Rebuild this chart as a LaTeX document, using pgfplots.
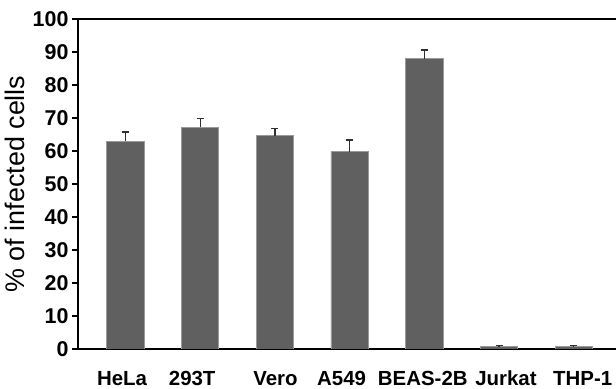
\documentclass[border=0pt]{standalone}
\usepackage{fontspec}
\setmainfont{Liberation Sans}
\usepackage{pgfplots}
\pgfplotsset{compat=1.18}
\definecolor{barfill}{HTML}{606060}
\definecolor{baredge}{HTML}{9A9A9A}
\definecolor{errc}{HTML}{303030}
\newcommand{\shl}[2]{\makebox[0pt]{\kern #1bp #2}}
\begin{document}
\begin{tikzpicture}
\begin{axis}[
  at={(78bp,40bp)}, anchor=south west,
  scale only axis,
  width=545bp, height=330bp,
  xmin=-0.636, xmax=6.66,
  ymin=0, ymax=100,
  ytick={0,10,...,100},
  xtick={0,1,2,3,4,5,6},
  xticklabels={\shl{-7}{HeLa},\shl{-16}{293T},\shl{1}{Vero},\shl{-16}{A549},\shl{-3}{BEAS-2B},\shl{14}{Jurkat},\shl{18}{THP-1}},
  axis line style={line width=2.6bp, black},
  ytick pos=left,
  xtick pos=bottom,
  tick align=outside,
  major tick length=6bp,
  ytick style={line width=2.2bp, black},
  xtick style={draw=none},
  /pgf/number format/assume math mode=true,
  tick label style={font=\fontsize{21.5}{24}\selectfont\bfseries},
  xticklabel style={anchor=base, yshift=-30bp, font=\fontsize{20.5}{24}\selectfont\bfseries},
  yticklabel style={anchor=east, xshift=0bp},
  ylabel={\% of infected cells},
  every axis y label/.style={at={(axis description cs:-0.1165,0.5)}, rotate=90, anchor=center, font=\fontsize{27}{30}\selectfont},
]
\addplot[ybar, bar width=0.5, fill=barfill, draw=baredge, line width=0.8bp,
  error bars/.cd, y dir=plus, y explicit,
  error bar style={line width=1.3bp, color=errc},
  error mark options={rotate=90, mark size=3.5bp, line width=1.3bp, color=errc}]
coordinates {
  (0,63.0) +- (0,2.8)
  (1,67.2) +- (0,2.7)
  (2,64.6) +- (0,2.2)
  (3,59.8) +- (0,3.5)
  (4,88.0) +- (0,2.6)
  (5,0.8) +- (0,0.2)
  (6,0.8) +- (0,0.2)
};
\end{axis}
\pgfresetboundingbox
\useasboundingbox (0,0) rectangle (616bp,389bp);
\end{tikzpicture}
\end{document}
